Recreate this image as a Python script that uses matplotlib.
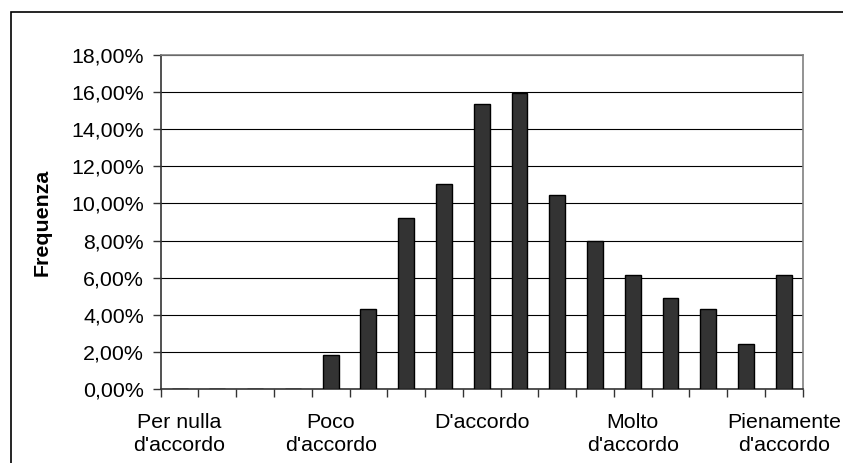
import matplotlib
matplotlib.use("Agg")
import matplotlib.pyplot as plt
from matplotlib.patches import Rectangle
from matplotlib.ticker import FixedLocator, FuncFormatter

# answer scale 1..5 in quarter steps, frequency in percent
scores = [1.0, 1.25, 1.5, 1.75, 2.0, 2.25, 2.5, 2.75, 3.0,
          3.25, 3.5, 3.75, 4.0, 4.25, 4.5, 4.75, 5.0]
freq = [0.0, 0.0, 0.0, 0.0, 1.84, 4.29, 9.20, 11.04, 15.34,
        15.95, 10.43, 7.98, 6.13, 4.91, 4.29, 2.45, 6.13]
label_pos = [0, 4, 8, 12, 16]
label_text = ["Per nulla\nd'accordo", "Poco\nd'accordo", "D'accordo",
              "Molto\nd'accordo", "Pienamente\nd'accordo"]
y_ticks = [0, 2, 4, 6, 8, 10, 12, 14, 16, 18]

plt.rcParams['font.family'] = ['Liberation Sans', 'DejaVu Sans']
fs = 15.4

fig = plt.figure(figsize=(8.43, 4.63), dpi=100)
ax = fig.add_axes([160.7 / 843, 74 / 463, 642 / 843, 334 / 463])

x = list(range(len(scores)))
ax.bar(x, freq, width=0.42, color='#333333', edgecolor='black',
       linewidth=1.0, zorder=3)

ax.set_xlim(-0.5, len(scores) - 0.5)
ax.set_ylim(0, 18)

ax.yaxis.set_major_locator(FixedLocator(y_ticks))
ax.yaxis.set_major_formatter(FuncFormatter(lambda v, p: f"{v:.2f}%".replace('.', ',')))
ax.grid(axis='y', color='black', linewidth=0.8, zorder=0)

# tick marks between categories, labels only every fourth category
ax.set_xticks([i - 0.5 for i in range(len(scores) + 1)])
ax.set_xticklabels([])
ax.set_xticks(label_pos, minor=True)
ax.set_xticklabels(label_text, minor=True, fontsize=fs, linespacing=1.3)
ax.tick_params(axis='x', which='minor', length=0, pad=17)
ax.tick_params(axis='x', which='major', length=6, width=1, color='#333333', direction='out')
ax.tick_params(axis='y', length=6, width=1, color='#333333', labelsize=fs, pad=6)

for side in ['top', 'right']:
    ax.spines[side].set_color('#808080')
    ax.spines[side].set_linewidth(1.2)
for side in ['left', 'bottom']:
    ax.spines[side].set_color('#333333')
    ax.spines[side].set_linewidth(1.2)

fig.text(42 / 843, 1 - 222 / 463, 'Frequenza', rotation=90, ha='center',
         va='center', fontsize=fs, fontweight='bold')

# chart area frame
fig.patches.append(Rectangle((10.5 / 843, -0.1), 1.2, 1.1 - 12.5 / 463,
                             transform=fig.transFigure, fill=False,
                             edgecolor='black', linewidth=1.2))

fig.savefig('out.png', dpi=100)
